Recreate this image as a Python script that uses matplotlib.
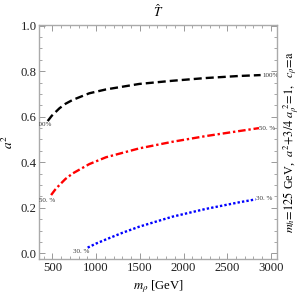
import matplotlib
matplotlib.use('Agg')
import matplotlib.pyplot as plt
from matplotlib.ticker import MultipleLocator

plt.rcParams['font.family'] = ['Liberation Serif', 'DejaVu Serif']
plt.rcParams['mathtext.fontset'] = 'stix'

# contour lines (m_rho in GeV, a^2)
m_black = [446, 492, 580, 650, 732, 922, 1113, 1493, 1873, 2254, 2635, 2882]
a_black = [0.581, 0.604, 0.637, 0.657, 0.674, 0.703, 0.720, 0.744, 0.758, 0.770, 0.779, 0.783]
m_red = [485, 530, 580, 650, 732, 922, 1113, 1493, 1873, 2254, 2635, 2863]
a_red = [0.256, 0.279, 0.300, 0.327, 0.351, 0.392, 0.422, 0.461, 0.490, 0.515, 0.537, 0.550]
m_blue = [903, 1000, 1113, 1300, 1493, 1873, 2254, 2635, 2825]
a_blue = [0.025, 0.043, 0.061, 0.090, 0.117, 0.161, 0.195, 0.224, 0.237]
labels = ['100%', '50. %', '30. %']

fig = plt.figure(figsize=(3.0, 2.94), dpi=100)
ax = fig.add_axes([0.131, 0.119, 0.792, 0.796])

ax.plot(m_black, a_black, color='black', lw=1.7, dashes=(3.4, 1.7))
ax.plot(m_red, a_red, color='red', lw=1.7, dashes=(3.2, 1.2, 1.0, 1.2))
ax.plot(m_blue, a_blue, color='blue', lw=1.7, dashes=(1.0, 0.9))

# contour labels at both ends of each line (clipped by the frame)
curves = [(m_black, a_black), (m_red, a_red), (m_blue, a_blue)]
left_off = [(-4, -3), (-4, -5), (-6, -4)]
right_off = [(10, 0), (8.5, 0), (9, 1)]
for (mm, aa), lab, lo, ro in zip(curves, labels, left_off, right_off):
    for pt, off in [((mm[0], aa[0]), lo), ((mm[-1], aa[-1]), ro)]:
        t = ax.annotate(lab, pt, xytext=off, textcoords='offset pixels',
                        ha='center', va='center', fontsize=5, color='#333333',
                        annotation_clip=False)
        t.set_clip_on(True)
        t.set_clip_box(ax.bbox)

ax.set_xlim(350, 3068)
ax.set_ylim(-0.025, 1.003)
ax.xaxis.set_major_locator(MultipleLocator(500))
ax.xaxis.set_minor_locator(MultipleLocator(100))
ax.yaxis.set_major_locator(MultipleLocator(0.2))
ax.yaxis.set_minor_locator(MultipleLocator(0.05))
ax.yaxis.set_major_formatter(plt.FuncFormatter(lambda v, p: f'{v:.1f}'))
ax.tick_params(which='both', direction='in', top=True, right=True,
               color='#999999', labelsize=9.2, labelcolor='#222222', pad=2)
ax.tick_params(which='major', length=4, width=0.7)
ax.tick_params(which='minor', length=2, width=0.6)
for s in ax.spines.values():
    s.set_color('#aaaaaa')
    s.set_linewidth(1.0)

ax.set_title(r'$\hat{T}$', fontsize=9.5, pad=6)
ax.set_xlabel(r'$m_\rho$ [GeV]', fontsize=9.2, labelpad=3)
ax.set_ylabel(r'$a^2$', fontsize=9.5, labelpad=3)
ax.text(1.058, 0.5,
        r'$m_h\!=\!125$ GeV,  $a^2\!+\!3/4\ a_\rho^{\ 2}\!=\!1,\ \ c_\rho\!=\!\mathrm{a}$',
        transform=ax.transAxes, rotation=90, ha='center', va='center', fontsize=8.8)

fig.savefig('out.png', dpi=100)
